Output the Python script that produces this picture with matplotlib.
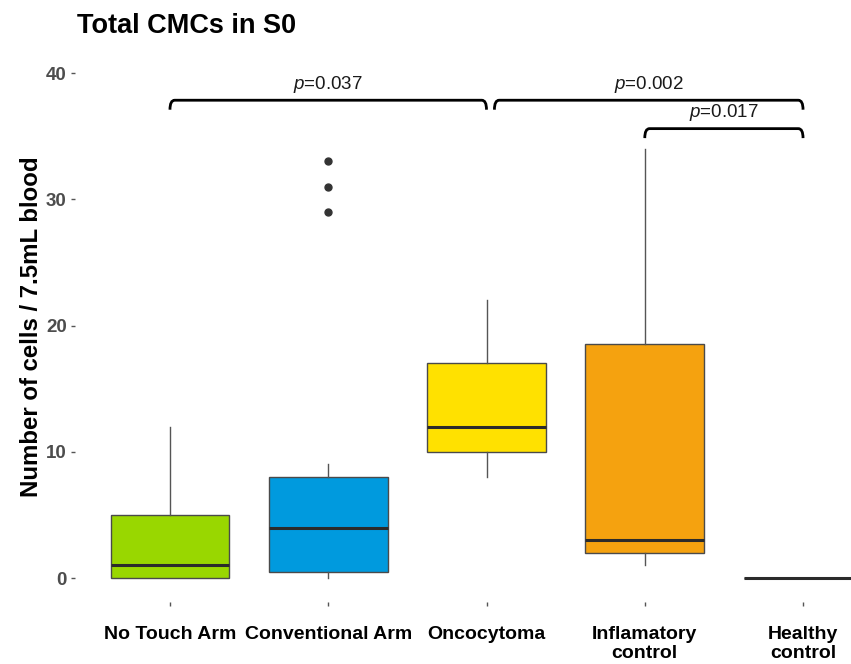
import matplotlib
matplotlib.use("Agg")
import matplotlib.pyplot as plt
from matplotlib.path import Path
from matplotlib.patches import PathPatch

plt.rcParams['font.family'] = ['Liberation Sans', 'DejaVu Sans']
plt.rcParams['mathtext.fontset'] = 'custom'
plt.rcParams['mathtext.it'] = 'Liberation Sans:italic'
plt.rcParams['mathtext.rm'] = 'Liberation Sans'

categories = ["No Touch Arm", "Conventional Arm", "Oncocytoma", "Inflamatory\ncontrol", "Healthy\ncontrol"]
q1 = [0, 0.5, 10, 2, 0]
med = [1, 4, 12, 3, 0]
q3 = [5, 8, 17, 18.5, 0]
whislo = [0, 0, 8, 1, 0]
whishi = [12, 9, 22, 34, 0]
fliers = [[], [29, 31, 33], [], [], []]
colors = ["#99D700", "#009ADE", "#FFE100", "#F5A20F", "#333333"]

comparisons = [(1, 3, 37.85, "0.037"), (3, 5, 37.85, "0.002"), (4, 5, 35.6, "0.017")]
yticks = [0, 10, 20, 30, 40]

W, H = 851, 664
fig = plt.figure(figsize=(W/100, H/100), dpi=100)
# axes from x=75 to 898 px (right side cropped), y from 51 to 602 px
left_px, right_px, top_px, bot_px = 75, 898, 51, 602
ax = fig.add_axes([left_px/W, 1-bot_px/H, (right_px-left_px)/W, (bot_px-top_px)/H])

stats = []
for i in range(len(categories)):
    stats.append(dict(q1=q1[i], med=med[i], q3=q3[i], whislo=whislo[i], whishi=whishi[i],
                      fliers=fliers[i], label=categories[i]))
bp = ax.bxp(stats, positions=range(1, 6), widths=0.75, patch_artist=True, showcaps=False,
            boxprops=dict(edgecolor="#4a4a4a", linewidth=1.0),
            whiskerprops=dict(color="#555555", linewidth=1.0),
            medianprops=dict(color="#2b2b2b", linewidth=2.2),
            flierprops=dict(marker='o', markerfacecolor="#333333", markeredgecolor="#333333", markersize=5))
for patch, c in zip(bp['boxes'], colors):
    patch.set_facecolor(c)

ax.set_xlim(0.4, 5.6)
ax.set_ylim(-1.9, 41.75)
ax.set_yticks(yticks)
ax.set_yticklabels([str(t) for t in yticks])
for s in ax.spines.values():
    s.set_visible(False)
ax.tick_params(axis='both', length=3, width=1, color="#555555", labelcolor="#4D4D4D")
ax.tick_params(axis='y', labelsize=13.5, pad=3)
ax.tick_params(axis='x', labelsize=14, labelcolor="black", pad=14)
for lbl in ax.get_yticklabels():
    lbl.set_fontweight('bold')
for lbl in ax.get_xticklabels():
    lbl.set_fontweight('bold')
    lbl.set_linespacing(1.22)
ax.set_ylabel("Number of cells / 7.5mL blood", fontsize=17.3, fontweight='bold', labelpad=2)

def bracket(x1, x2, y, txt, tip=0.75):
    verts = [(x1, y - tip), (x1, y), (x1 + 0.03, y), (x2 - 0.03, y), (x2, y), (x2, y - tip)]
    codes = [Path.MOVETO, Path.CURVE3, Path.CURVE3, Path.LINETO, Path.CURVE3, Path.CURVE3]
    ax.add_patch(PathPatch(Path(verts, codes), fill=False, lw=2, edgecolor='black', clip_on=False))
    ax.text((x1 + x2) / 2, y + 0.45, "$p$=" + txt, ha='center', va='bottom', fontsize=13.5, color="#1a1a1a")

for (a, b, y, t) in comparisons:
    xa = a + (0.05 if a == 3 and b == 5 else 0)
    bracket(xa, b, y, t)

fig.text(77/W, 1-26/H, "Total CMCs in S0", fontsize=19.5, fontweight='bold', va='center', ha='left')

fig.savefig("out.png", dpi=100)
